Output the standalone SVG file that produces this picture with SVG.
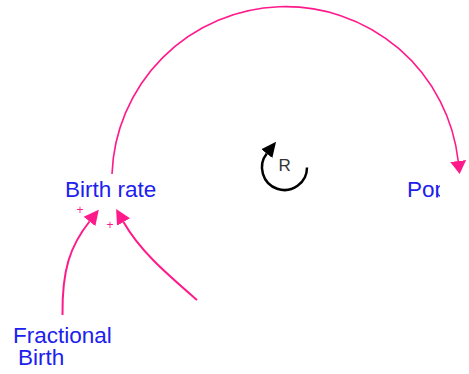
<svg xmlns="http://www.w3.org/2000/svg" width="469" height="374" viewBox="0 0 469 374">
<style>
.lbl{font-family:"Liberation Sans",Arial,sans-serif;font-size:22.5px;fill:#2020ee}
.link{fill:none;stroke:#ff1a8c;stroke-width:2}
.pol{font-family:"Liberation Sans",Arial,sans-serif;font-size:12px;fill:#ff1a8c}
</style>
<defs>
<marker id="ahBig" markerUnits="userSpaceOnUse" markerWidth="14" markerHeight="18" refX="0" refY="8" orient="auto" viewBox="0 0 14 16">
<path d="M0,0 L13,8 L0,16 z" fill="#ff1a8c"/>
</marker>
<marker id="ah" markerUnits="userSpaceOnUse" markerWidth="16" markerHeight="16" refX="0" refY="7" orient="auto" viewBox="0 0 15 14">
<path d="M0,0 L14,7 L0,14 z" fill="#ff1a8c"/>
</marker>
<marker id="ahLoop" markerUnits="userSpaceOnUse" markerWidth="16" markerHeight="16" refX="0" refY="7" orient="auto" viewBox="0 0 16 14">
<path d="M0,0 L15,7 L0,14 z" fill="#000"/>
</marker>
<clipPath id="popClip"><rect x="400" y="170" width="40" height="27.5"/></clipPath>
</defs>
<g id="connectors">
<path id="c1" class="link" style="stroke-width:1.6" d="M112,174 A173.7,173.7 0 0 1 458.2,161" marker-end="url(#ahBig)"/>
<path id="c2" class="link" d="M62.5,315 C62,270 70,246 89.5,221.5" marker-end="url(#ah)"/>
<text class="pol" x="76.5" y="213.5">+</text>
<path id="c3" class="link" d="M197,300 C166,273 140,251 123.5,222" marker-end="url(#ah)"/>
<text class="pol" x="106.5" y="228.5">+</text>
</g>
<g id="loop">
<path d="M307,167.5 A22.5,22.5 0 1 1 266.8,153.6" fill="none" stroke="#000" stroke-width="2.5" marker-end="url(#ahLoop)"/>
<text x="278.5" y="171" style="font-family:'Liberation Sans',Arial,sans-serif;font-size:17px;fill:#333">R</text>
</g>
<g id="birth-rate"><text class="lbl" x="65" y="197">Birth rate</text></g>
<g id="population"><text class="lbl" x="407" y="197" clip-path="url(#popClip)">Pop</text></g>
<g id="fractional-birth"><text class="lbl" x="13" y="343">Fractional<tspan x="18" y="365">Birth</tspan></text></g>
</svg>
